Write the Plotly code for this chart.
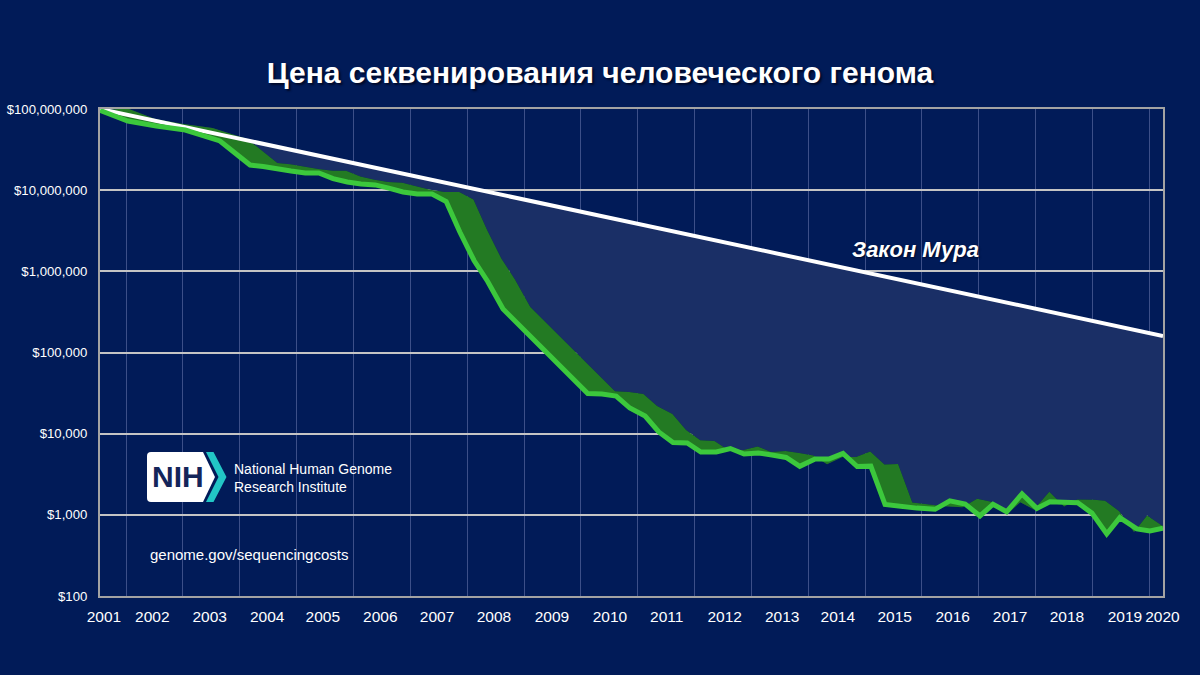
import plotly.graph_objects as go

# ---------------- data ----------------
years = [2001.67, 2002.16, 2002.66, 2003.17, 2003.78, 2004.31, 2004.54, 2004.78, 2005.03, 2005.28,
         2005.52, 2005.77, 2006.02, 2006.26, 2006.51, 2006.75, 2007.00, 2007.25, 2007.51, 2007.76,
         2008.00, 2008.25, 2008.49, 2008.76, 2009.00, 2009.25, 2009.49, 2009.76, 2010.00, 2010.25,
         2010.50, 2010.75, 2010.99, 2011.26, 2011.50, 2011.75, 2012.00, 2012.24, 2012.51, 2012.76,
         2013.00, 2013.25, 2013.49, 2013.74, 2013.98, 2014.25, 2014.49, 2014.74, 2014.99, 2015.23,
         2015.48, 2015.74, 2016.04, 2016.36, 2016.62, 2016.89, 2017.15, 2017.38, 2017.62, 2017.89,
         2018.15, 2018.38, 2018.68, 2018.87, 2019.12, 2019.38, 2019.61, 2019.91, 2020.14, 2020.37]
cost = [96000000, 71100000, 61700000, 55100000, 40400000, 20400000, 19600000, 18200000, 17200000, 16300000,
        16300000, 13900000, 12600000, 11900000, 11600000, 10600000, 9500000, 8970000, 8970000, 7250000,
        3050000, 1360000, 750000, 343000, 234000, 155000, 107500, 70300, 46600, 31300,
        30800, 29100, 20700, 16500, 10500, 7800, 7670, 5950, 5950, 6560,
        5620, 5780, 5460, 5090, 3960, 4880, 4880, 5700, 3940, 3980,
        1340, 1260, 1210, 1170, 1490, 1360, 968, 1350, 1090, 1810,
        1200, 1450, 1440, 1410, 1050, 581, 923, 670, 632, 683]

# upper edge of the dark-green ribbon behind the cost line
shadow_years = [2002.15, 2002.64, 2003.14, 2003.65, 2004.26, 2004.79, 2005.02, 2005.26, 2005.51, 2005.76,
                2006.00, 2006.25, 2006.50, 2006.74, 2006.99, 2007.23, 2007.48, 2007.73, 2007.99, 2008.24,
                2008.48, 2008.73, 2008.97, 2009.24, 2009.48, 2009.73, 2009.97, 2010.24, 2010.48, 2010.73,
                2010.98, 2011.23, 2011.47, 2011.74, 2011.98, 2012.23, 2012.48, 2012.72, 2012.99, 2013.24,
                2013.48, 2013.73, 2013.97, 2014.22, 2014.46, 2014.73, 2014.97, 2015.22, 2015.47, 2015.71,
                2015.96, 2016.22, 2016.52, 2016.84, 2017.10, 2017.37, 2017.63, 2017.86, 2018.10, 2018.37,
                2018.63, 2018.86, 2019.16, 2019.35, 2019.60, 2019.86, 2020.09, 2020.39, 2020.62, 2020.85]
shadow_cost = [101800000, 75400000, 65400000, 58400000, 42800000, 21600000, 20800000, 19300000, 18200000, 17300000,
               17300000, 14700000, 13400000, 12600000, 12300000, 11200000, 10100000, 9500000, 9500000, 7700000,
               3230000, 1440000, 795000, 364000, 248000, 164000, 114000, 74500, 49400, 33200,
               32600, 30800, 21900, 17500, 11100, 8270, 8130, 6310, 6310, 6950,
               5960, 6130, 5790, 5400, 4200, 5170, 5170, 6040, 4180, 4220,
               1420, 1340, 1280, 1240, 1580, 1440, 1026, 1430, 1160, 1920,
               1270, 1540, 1530, 1490, 1110, 616, 978, 710, 670, 724]

moore_years = [2001.67, 2020.37]
moore_cost = [100000000, 160000]

y_tick_values = [1e2, 1e3, 1e4, 1e5, 1e6, 1e7, 1e8]
y_tick_labels = ["$100", "$1,000", "$10,000", "$100,000", "$1,000,000", "$10,000,000", "$100,000,000"]

x_tick_labels = ["2001", "2002", "2003", "2004", "2005", "2006", "2007", "2008", "2009", "2010",
                 "2011", "2012", "2013", "2014", "2015", "2016", "2017", "2018", "2019", "2020"]
x_tick_positions = [2001.74, 2002.59, 2003.60, 2004.61, 2005.59, 2006.60, 2007.60, 2008.60, 2009.62, 2010.64,
                    2011.64, 2012.66, 2013.67, 2014.65, 2015.65, 2016.67, 2017.68, 2018.68, 2019.70, 2020.36]
x_grid_positions = [2002.13 + k for k in range(19)]

# ---------------- style ----------------
BG = "#011b58"
LIGHT = "#1a2f66"
DARKGREEN = "#237a23"
GREEN = "#3cc83c"
FONT = "Liberation Sans, Arial, sans-serif"

fig = go.Figure()
fig.add_trace(go.Scatter(x=moore_years, y=moore_cost, mode="lines",
                         line=dict(width=0, color="rgba(0,0,0,0)"), hoverinfo="skip", showlegend=False))
fig.add_trace(go.Scatter(x=shadow_years, y=shadow_cost, mode="lines",
                         line=dict(width=0, color="rgba(0,0,0,0)"), fill="tonexty", fillcolor=LIGHT,
                         hoverinfo="skip", showlegend=False))
fig.add_trace(go.Scatter(x=years, y=cost, mode="lines",
                         line=dict(width=0, color="rgba(0,0,0,0)"), fill="tonexty", fillcolor=DARKGREEN,
                         hoverinfo="skip", showlegend=False))
fig.add_trace(go.Scatter(x=moore_years, y=moore_cost, mode="lines",
                         line=dict(width=4, color="white"), hoverinfo="skip", showlegend=False))
fig.add_trace(go.Scatter(x=years, y=cost, mode="lines",
                         line=dict(width=5, color=GREEN), hoverinfo="skip", showlegend=False))

fig.update_layout(
    width=1200, height=675,
    paper_bgcolor=BG, plot_bgcolor=BG,
    margin=dict(l=100, r=37, t=109, b=79, autoexpand=False),
    showlegend=False,
    title=dict(text="<b>Цена секвенирования человеческого генома</b>",
               x=0.5, xref="container", xanchor="center",
               y=1 - 72 / 675, yref="container", yanchor="middle",
               font=dict(family=FONT, size=30, color="white", shadow="2px 2px 2px #000a2a")),
    xaxis=dict(range=[2001.67, 2020.37], tickmode="array", tickvals=x_tick_positions, ticktext=x_tick_labels,
               automargin=False,
               showgrid=False, zeroline=False, showline=True, linecolor="#a3a3a3", linewidth=2, mirror=True,
               ticks="", ticklabelstandoff=5,
               tickfont=dict(family="Liberation Sans Narrow, Arial Narrow, Liberation Sans, sans-serif",
                             size=15.5, color="white"),
               minor=dict(tickmode="array", tickvals=x_grid_positions, showgrid=True,
                          gridcolor="#3c4f88", gridwidth=1, ticks="")),
    yaxis=dict(type="log", range=[2, 8], tickmode="array", tickvals=y_tick_values, ticktext=y_tick_labels,
               automargin=False,
               showgrid=True, gridcolor="#c4c4c4", gridwidth=2, zeroline=False,
               showline=True, linecolor="#a3a3a3", linewidth=2, mirror=True,
               ticks="", ticklabelstandoff=8,
               tickfont=dict(family=FONT, size=13.2, color="white")),
)

# Moore's law label and credits
fig.add_annotation(text="<b><i>Закон Мура</i></b>", xref="paper", yref="paper",
                   x=0.7676, y=0.7125, xanchor="center", yanchor="middle", showarrow=False,
                   font=dict(family=FONT, size=22, color="white", shadow="1px 1px 2px #000a2a"))
fig.add_annotation(text="National Human Genome<br>Research Institute", xref="paper", yref="paper",
                   x=0.1242, y=0.2426, xanchor="left", yanchor="middle", align="left", showarrow=False,
                   font=dict(family=FONT, size=14, color="white"))
fig.add_annotation(text="genome.gov/sequencingcosts", xref="paper", yref="paper",
                   x=0.0452, y=0.0862, xanchor="left", yanchor="middle", showarrow=False,
                   font=dict(family=FONT, size=15, color="white"))

# NIH logo
fig.add_shape(type="path", xref="paper", yref="paper", layer="above", line=dict(width=0),
              fillcolor="white",
              path="M 0.04798,0.29569 L 0.09690,0.29569 L 0.10818,0.24435 L 0.09690,0.19302 "
                   "L 0.04798,0.19302 Q 0.04421,0.19302 0.04421,0.20123 L 0.04421,0.28747 "
                   "Q 0.04421,0.29569 0.04798,0.29569 Z")
fig.add_shape(type="path", xref="paper", yref="paper", layer="above", line=dict(width=0),
              fillcolor="#22c6c6",
              path="M 0.09972,0.29569 L 0.10677,0.29569 L 0.11900,0.24435 L 0.10677,0.19302 "
                   "L 0.09972,0.19302 L 0.11148,0.24435 Z")
fig.add_annotation(text="<b>NIH</b>", xref="paper", yref="paper", x=0.0734, y=0.2444,
                   xanchor="center", yanchor="middle", showarrow=False,
                   font=dict(family=FONT, size=30, color="#14255a"))

fig.write_html("out.html")
